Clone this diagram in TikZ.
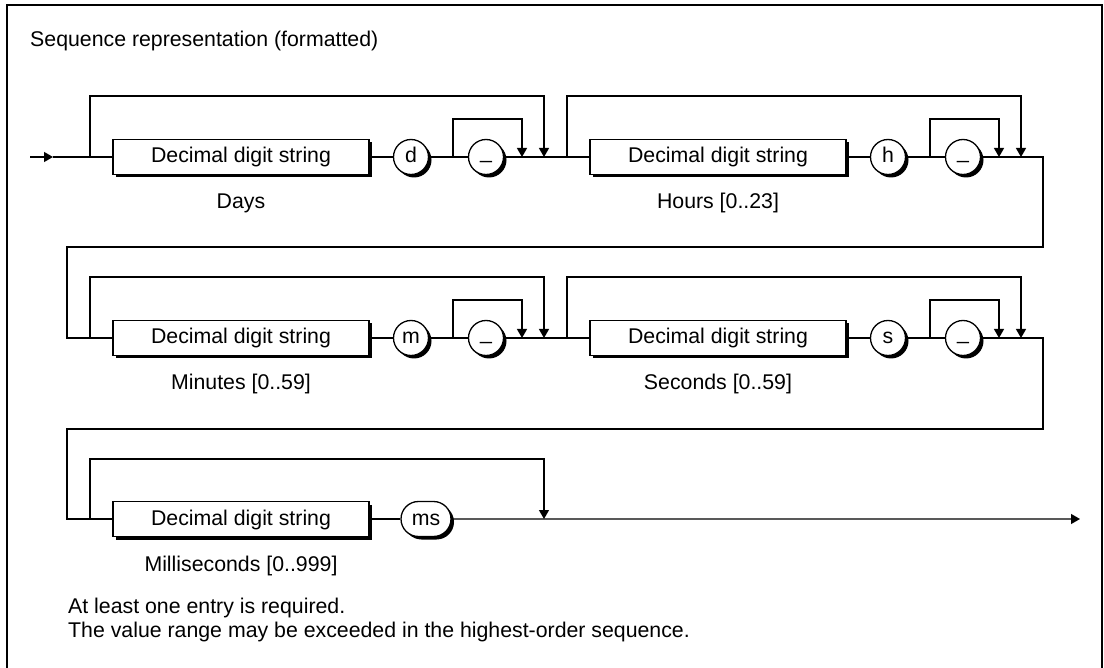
\documentclass[tikz,border=0pt]{standalone}
\usepackage{fontspec}
\setmainfont{Liberation Sans}
\usetikzlibrary{arrows.meta,shadows,shapes.misc}
\tikzset{
  ln/.style={line width=1.3pt},
  arr/.style={ln, -{Triangle[length=9pt,width=10pt]}},
  shad/.style={drop shadow={shadow xshift=3pt, shadow yshift=-3pt, fill=black, draw=none, opacity=1}},
  box/.style={draw, ln, fill=white, shad, minimum width=256pt, minimum height=35pt, inner sep=0pt, text height=16pt, text depth=4pt},
  term/.style={draw, ln, fill=white, shad, circle, minimum size=35pt, inner sep=0pt, text height=16pt, text depth=4pt},
  termr/.style={draw, ln, fill=white, shad, rounded rectangle, minimum width=50pt, minimum height=35pt, inner sep=0pt, text height=16pt, text depth=4pt},
  lab/.style={anchor=base, inner sep=0pt},
  txt/.style={anchor=base west, inner sep=0pt}
}
\newcommand\seggroup[5]{%
  \coordinate (#1j) at (90+#2,#3);
  \node[box] (#1b) at (241+#2,#3) {Decimal digit string};
  \node[term] (#1t) at (411+#2,#3) {#4};
  \coordinate (#1k) at (453+#2,#3);
  \node[term] (#1u) at (486+#2,#3) {\raisebox{4pt}{\_}};
  \coordinate (#1i) at (522+#2,#3);
  \coordinate (#1o) at (544+#2,#3);
  \node[lab] (#1l) at (241+#2,#3+52) {#5};
  \draw[ln] (#1j) -- (#1b);
  \draw[ln] (#1b) -- (#1t);
  \draw[ln] (#1t) -- (#1u);
  \draw[ln] (#1u) -- (#1o);
  \draw[arr] (#1j) -- ++(0,-61) -| (#1o);
  \draw[arr] (#1k) -- ++(0,-38) -| (#1i);
}
\begin{document}
\begin{tikzpicture}[x=1pt,y=-1pt,font=\fontsize{21.3}{24}\selectfont]
\useasboundingbox (0,0) rectangle (1104,668);
\draw[ln] (7,5) rectangle (1102,675);
\node[txt] (title) at (30,46.3) {Sequence representation (formatted)};
% row 1
\coordinate (start) at (30,157);
\coordinate (ah) at (53,157);
\seggroup{A}{0}{157}{d}{Days}
\seggroup{B}{477}{157}{h}{Hours [0..23]}
\draw[arr] (start) -- (ah);
\draw[ln] (ah) -- (Aj);
\draw[ln] (Ao) -- (Bj);
\coordinate (R1) at (1043,157);
\coordinate (L1) at (67,247);
% row 2
\seggroup{C}{0}{338}{m}{Minutes [0..59]}
\seggroup{D}{477}{338}{s}{Seconds [0..59]}
\draw[ln] (Bo) -- (R1) |- (L1) |- (Cj);
\draw[ln] (Co) -- (Dj);
\coordinate (R2) at (1043,338);
\coordinate (L2) at (67,429);
% row 3
\coordinate (Ej) at (90,519);
\node[box] (Eb) at (241,519) {Decimal digit string};
\node[termr] (Et) at (426,519) {ms};
\coordinate (Eo) at (544,519);
\coordinate (end) at (1080,519);
\node[lab] (El) at (241,571) {Milliseconds [0..999]};
\draw[ln] (Do) -- (R2) |- (L2) |- (Ej);
\draw[ln] (Ej) -- (Eb);
\draw[ln] (Eb) -- (Et);
\draw[arr] (Et) -- (end);
\draw[arr] (Ej) -- ++(0,-60) -| (Eo);
% notes
\node[txt] (n1) at (68,613.3) {At least one entry is required.};
\node[txt] (n2) at (68,637) {The value range may be exceeded in the highest-order sequence.};
\end{tikzpicture}
\end{document}
